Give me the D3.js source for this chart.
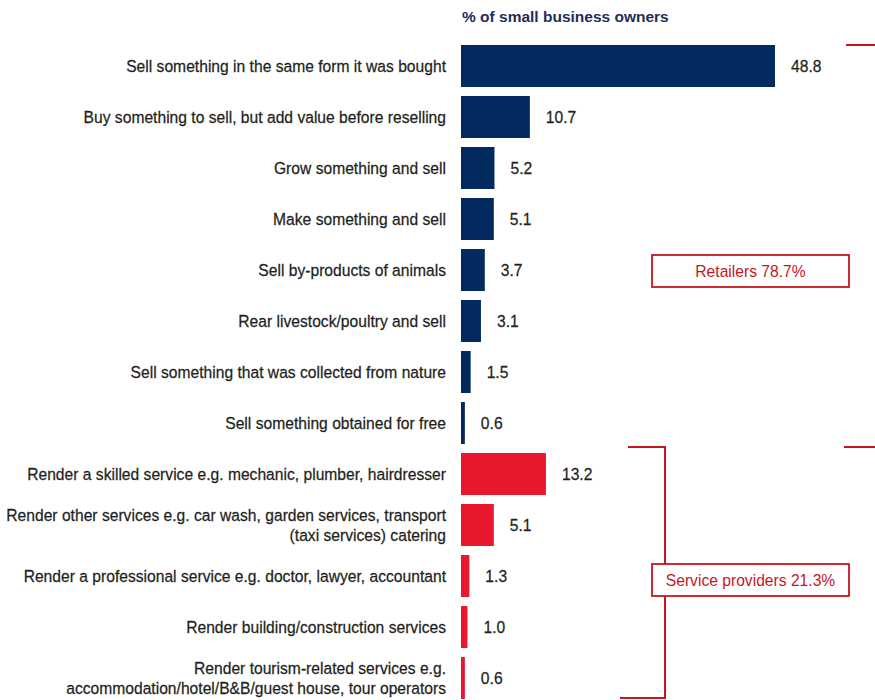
<!DOCTYPE html>
<html>
<head>
<meta charset="utf-8">
<script src="https://cdn.jsdelivr.net/npm/d3@7"></script>
<style>
  html, body { margin: 0; padding: 0; background: #fff; }
  svg { display: block; }
</style>
</head>
<body>
<svg id="chart" width="875" height="700"></svg>
<script>
// Activity categories (label lines) and their share of small business owners (%)
const categories = [
  ["Sell something in the same form it was bought"],
  ["Buy something to sell, but add value before reselling"],
  ["Grow something and sell"],
  ["Make something and sell"],
  ["Sell by-products of animals"],
  ["Rear livestock/poultry and sell"],
  ["Sell something that was collected from nature"],
  ["Sell something obtained for free"],
  ["Render a skilled service e.g. mechanic, plumber, hairdresser"],
  ["Render other services e.g. car wash, garden services, transport", "(taxi services) catering"],
  ["Render a professional service e.g. doctor, lawyer, accountant"],
  ["Render building/construction services"],
  ["Render tourism-related services e.g.", "accommodation/hotel/B&B/guest house, tour operators"]
];
const values = [48.8, 10.7, 5.2, 5.1, 3.7, 3.1, 1.5, 0.6, 13.2, 5.1, 1.3, 1.0, 0.6];
const groups = ["retail", "retail", "retail", "retail", "retail", "retail", "retail", "retail",
                "service", "service", "service", "service", "service"];
const groupLabels = ["Retailers 78.7%", "Service providers 21.3%"];
const axisTitle = "% of small business owners";

const colors = { retail: "#022a5e", service: "#e8192c" };
const bracketRed = "#c8161e";
const textColor = "#231f20";
const labelFont = "'Liberation Sans', Arial, sans-serif";
const fontSize = 17;
const squeeze = 0.92;   // horizontal condensing of the label type

const svg = d3.select("#chart");

const x = d3.scaleLinear().domain([0, 48.8]).range([461, 775]);
const y = d3.scaleBand()
  .domain(d3.range(values.length))
  .range([40.5, 40.5 + 13 * 51])
  .paddingInner(9 / 51)
  .paddingOuter(9 / 102);

// Axis title
svg.append("text")
  .attr("x", 462).attr("y", 22)
  .attr("font-family", labelFont)
  .attr("font-size", 15.5).attr("font-weight", "bold")
  .attr("fill", "#1f2d5a")
  .text(axisTitle);

// Bars
svg.append("g").selectAll("rect")
  .data(values)
  .join("rect")
  .attr("x", x(0))
  .attr("y", (d, i) => y(i))
  .attr("width", d => x(d) - x(0))
  .attr("height", y.bandwidth())
  .attr("fill", (d, i) => colors[groups[i]]);

// Category labels, right-aligned left of the bars
const lab = svg.append("g")
  .attr("font-family", labelFont)
  .attr("font-size", fontSize)
  .attr("fill", textColor)
  .attr("stroke", textColor).attr("stroke-width", 0.25)
  .attr("text-anchor", "end");
categories.forEach((lines, i) => {
  const cy = y(i) + y.bandwidth() / 2;
  const t = lab.append("text")
    .attr("transform", `translate(446,${cy}) scale(${squeeze},1)`);
  lines.forEach((ln, j) => {
    t.append("tspan")
      .attr("x", 0)
      .attr("y", (j - (lines.length - 1) / 2) * 20.5)
      .attr("dy", "0.35em")
      .text(ln);
  });
});

// Value labels
svg.append("g")
  .attr("font-family", labelFont)
  .attr("font-size", fontSize)
  .attr("fill", textColor)
  .attr("stroke", textColor).attr("stroke-width", 0.25)
  .selectAll("text")
  .data(values)
  .join("text")
  .attr("transform", (d, i) => `translate(${x(d) + 16},${y(i) + y.bandwidth() / 2}) scale(${squeeze},1)`)
  .attr("dy", "0.35em")
  .text(d => d.toFixed(1));

// Group brackets
const br = svg.append("g").attr("stroke", bracketRed).attr("stroke-width", 2).attr("fill", "none");
const retailTop = y(0);
const serviceTop = y(8) - 6;
br.append("line").attr("x1", 846).attr("x2", 875).attr("y1", retailTop).attr("y2", retailTop);
br.append("line").attr("x1", 844).attr("x2", 875).attr("y1", serviceTop).attr("y2", serviceTop);
br.append("path")
  .attr("d", `M628,${serviceTop}H665V698H620`);

// Group boxes
const boxes = [
  { label: groupLabels[0], y: 255 },
  { label: groupLabels[1], y: 564 }
];
const bx = svg.append("g");
boxes.forEach(b => {
  bx.append("rect")
    .attr("x", 652).attr("y", b.y).attr("width", 197).attr("height", 32)
    .attr("fill", "#fff").attr("stroke", bracketRed).attr("stroke-width", 1.8);
  bx.append("text")
    .attr("transform", `translate(${652 + 197 / 2},${b.y + 16}) scale(${squeeze},1)`)
    .attr("dy", "0.35em")
    .attr("text-anchor", "middle")
    .attr("font-family", labelFont).attr("font-size", fontSize)
    .attr("fill", bracketRed)
    .text(b.label);
});
</script>
</body>
</html>
